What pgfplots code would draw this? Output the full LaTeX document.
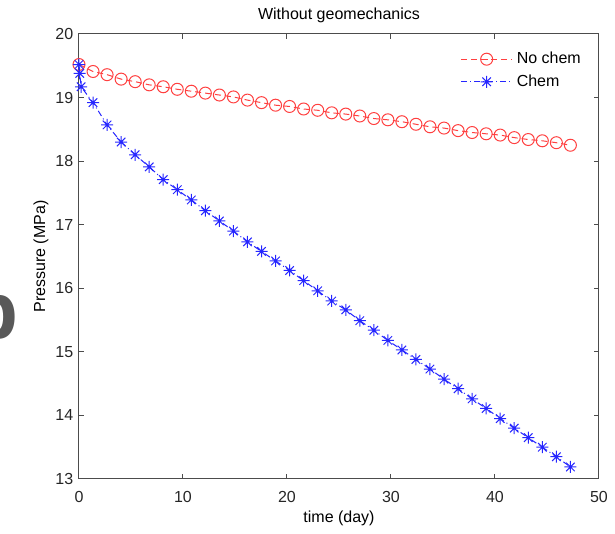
\documentclass[border=0pt]{standalone}
\usepackage{fontspec}
\setmainfont{Liberation Sans}
\usepackage{pgfplots}
\pgfplotsset{compat=1.18}
\pgfdeclareplotmark{mstar}{%
  \pgfpathmoveto{\pgfqpoint{-\pgfplotmarksize}{0pt}}\pgfpathlineto{\pgfqpoint{\pgfplotmarksize}{0pt}}%
  \pgfpathmoveto{\pgfqpoint{0pt}{-\pgfplotmarksize}}\pgfpathlineto{\pgfqpoint{0pt}{\pgfplotmarksize}}%
  \pgfpathmoveto{\pgfqpoint{-0.707\pgfplotmarksize}{-0.707\pgfplotmarksize}}\pgfpathlineto{\pgfqpoint{0.707\pgfplotmarksize}{0.707\pgfplotmarksize}}%
  \pgfpathmoveto{\pgfqpoint{-0.707\pgfplotmarksize}{0.707\pgfplotmarksize}}\pgfpathlineto{\pgfqpoint{0.707\pgfplotmarksize}{-0.707\pgfplotmarksize}}%
  \pgfusepathqstroke}
\begin{document}
\fontsize{8}{9.6}\selectfont
\begin{tikzpicture}
\path[use as bounding box] (0,0) rectangle (307.5pt,267pt);
\node[anchor=base west, text=black!65, font=\fontsize{40}{40}\selectfont\bfseries, inner sep=0] at (-15.5pt, 97.5pt) {b};
\begin{axis}[
  at={(39.5pt,27.5pt)}, anchor=south west,
  scale only axis, width=260pt, height=222.5pt,
  xmin=0, xmax=50, ymin=13, ymax=20,
  xtick={0,10,...,50}, ytick={13,...,20},
  tick align=inside, major tick length=2.5pt,
  axis line style={black!70, line width=0.5pt},
  tick style={black!70, line width=0.5pt},
  every tick label/.append style={font=\fontsize{8}{9.6}\selectfont, text=black!85},
  xticklabel style={yshift=-3.5pt},
  /pgf/number format/assume math mode=true,
  title={Without geomechanics},
  title style={font=\fontsize{8}{9.6}\selectfont, yshift=-3.5pt},
  xlabel={time (day)}, ylabel={Pressure (MPa)},
  label style={font=\fontsize{8}{9.6}\selectfont},
  xlabel style={yshift=1.5pt},
  ylabel style={yshift=-2pt},
  legend style={draw=none, fill=none, at={(0.985,0.978)}, anchor=north east,
    font=\fontsize{8}{9.6}\selectfont, row sep=0.3pt},
  legend cell align=left,
  legend image code/.code={\draw[mark repeat=2,mark phase=2,#1] plot coordinates {(0cm,0cm) (0.45cm,0cm) (0.9cm,0cm)};},
]
\addplot[color=red!75, line width=0.5pt, dash pattern=on 3pt off 2pt, mark=o, mark size=3pt, mark options={solid}] coordinates {
(0,19.52) (1.35,19.41) (2.70,19.36) (4.05,19.29) (5.40,19.25) (6.75,19.20) (8.10,19.17) (9.45,19.13) (10.80,19.10) (12.15,19.07) (13.50,19.04) (14.85,19.01) (16.20,18.96) (17.55,18.92) (18.90,18.88) (20.25,18.86) (21.60,18.82) (22.95,18.80) (24.30,18.76) (25.65,18.74) (27.00,18.71) (28.35,18.67) (29.70,18.65) (31.05,18.62) (32.40,18.58) (33.75,18.54) (35.10,18.52) (36.45,18.48) (37.80,18.45) (39.15,18.43) (40.50,18.41) (41.85,18.37) (43.20,18.34) (44.55,18.32) (45.90,18.29) (47.25,18.25)
};
\addlegendentry{No chem}
\addplot[color=blue!85, line width=0.5pt, dash pattern=on 3pt off 1.5pt on 0.5pt off 1.5pt, mark=mstar, mark size=3pt, mark options={solid}] coordinates {
(0,19.52) (0.07,19.38) (0.2,19.17) (1.35,18.92) (2.70,18.57) (4.05,18.30) (5.40,18.10) (6.75,17.91) (8.10,17.71) (9.45,17.55) (10.80,17.39) (12.15,17.22) (13.50,17.06) (14.85,16.90) (16.20,16.73) (17.55,16.58) (18.90,16.43) (20.25,16.28) (21.60,16.12) (22.95,15.96) (24.30,15.80) (25.65,15.66) (27.00,15.49) (28.35,15.34) (29.70,15.18) (31.05,15.03) (32.40,14.88) (33.75,14.73) (35.10,14.57) (36.45,14.42) (37.80,14.26) (39.15,14.11) (40.50,13.95) (41.85,13.80) (43.20,13.65) (44.55,13.50) (45.90,13.35) (47.25,13.19)
};
\addlegendentry{Chem}
\end{axis}
\end{tikzpicture}
\end{document}
